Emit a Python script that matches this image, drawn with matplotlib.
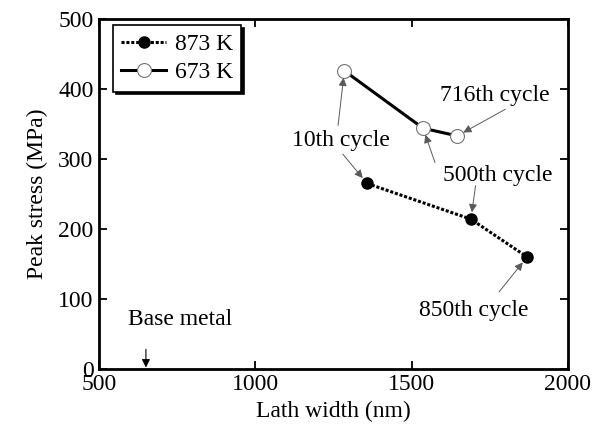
import matplotlib
matplotlib.use("Agg")
import matplotlib.pyplot as plt

# data
width_873 = [1358, 1690, 1870]
stress_873 = [265, 214, 160]
width_673 = [1285, 1537, 1646]
stress_673 = [426, 344, 333]

plt.rcParams["font.family"] = ["Liberation Serif", "DejaVu Serif"]
plt.rcParams["font.size"] = 17

fig = plt.figure(figsize=(6.04, 4.33), dpi=100)
ax = fig.add_axes([0.164, 0.148, 0.776, 0.808])

ax.plot(width_873, stress_873, ls=(0, (1, 0.6)), color="black", lw=2.2,
        marker="o", ms=8, mfc="black", mec="black", label="873 K")
ax.plot(width_673, stress_673, ls="-", color="black", lw=2.2,
        marker="o", ms=10, mfc="white", mec="0.45", mew=0.8, label="673 K")

ax.set_xlim(500, 2000)
ax.set_ylim(0, 500)
ax.set_xticks([500, 1000, 1500, 2000])
ax.set_yticks([0, 100, 200, 300, 400, 500])
ax.tick_params(direction="in", top=True, right=True, length=6, width=1.3,
               labelsize=17, pad=4)
for s in ax.spines.values():
    s.set_linewidth(2)
ax.set_xlabel("Lath width (nm)", fontsize=17, labelpad=4)
ax.set_ylabel("Peak stress (MPa)", fontsize=17, labelpad=7)

leg = ax.legend(loc="upper left", fancybox=False, shadow={"color": "black", "alpha": 1},
                edgecolor="black", handlelength=1.9, borderpad=0.35,
                labelspacing=0.3, handletextpad=0.35, framealpha=1, fontsize=17,
                borderaxespad=0, bbox_to_anchor=(0.03, 0.983))
leg.get_frame().set_linewidth(1.2)

arrow = dict(arrowstyle="-|>", color="0.35", lw=0.7, mutation_scale=12, shrinkA=0, shrinkB=5)

ax.text(1275, 327, "10th cycle", ha="center", va="center")
ax.annotate("", xy=(width_673[0], stress_673[0]), xytext=(1265, 348), arrowprops=arrow)
ax.annotate("", xy=(width_873[0], stress_873[0]), xytext=(1280, 307), arrowprops=arrow)

ax.text(1775, 277, "500th cycle", ha="center", va="center")
ax.annotate("", xy=(width_673[1], stress_673[1]), xytext=(1575, 295), arrowprops=arrow)
ax.annotate("", xy=(width_873[1], stress_873[1]), xytext=(1705, 262), arrowprops=arrow)

ax.text(1765, 391, "716th cycle", ha="center", va="center")
ax.annotate("", xy=(width_673[2], stress_673[2]), xytext=(1800, 371), arrowprops=arrow)

ax.text(1700, 83, "850th cycle", ha="center", va="center")
ax.annotate("", xy=(width_873[2], stress_873[2]), xytext=(1780, 110), arrowprops=arrow)

ax.text(760, 71, "Base metal", ha="center", va="center")
ax.annotate("", xy=(650, 2), xytext=(650, 28),
            arrowprops=dict(arrowstyle="-|>", color="black", lw=0.8, mutation_scale=12,
                            shrinkA=0, shrinkB=0))

fig.savefig("out.png", dpi=100)
